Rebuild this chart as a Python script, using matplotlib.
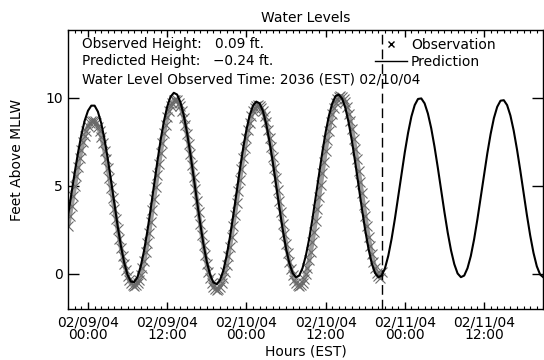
import numpy as np
import matplotlib
matplotlib.use("Agg")
import matplotlib.pyplot as plt
from matplotlib.ticker import MultipleLocator, FixedLocator
from matplotlib.lines import Line2D

# ---------------- data ----------------
# predicted water level, every half hour, hours since 02/09/04 00:00 EST
pred_hours = np.arange(-3.0, 69.01, 0.5)
pred_values = [
    3.39, 4.59, 5.79, 6.91, 7.91, 8.71, 9.27, 9.56, 9.56, 9.22, 8.57, 7.65, 6.53, 5.27,
    3.96, 2.69, 1.55, 0.61, -0.07, -0.44, -0.47, -0.18, 0.44, 1.33, 2.44, 3.70, 5.04,
    6.36, 7.60, 8.67, 9.50, 10.06, 10.29, 10.19, 9.76, 9.02, 8.03, 6.84, 5.53, 4.17,
    2.86, 1.67, 0.68, -0.06, -0.49, -0.59, -0.36, 0.18, 1.02, 2.08, 3.30, 4.60, 5.90,
    7.12, 8.18, 9.02, 9.56, 9.79, 9.69, 9.26, 8.52, 7.52, 6.35, 5.06, 3.76, 2.53, 1.45,
    0.61, 0.05, -0.19, -0.10, 0.32, 1.02, 1.96, 3.10, 4.36, 5.64, 6.90, 8.04, 8.98,
    9.68, 10.10, 10.19, 9.96, 9.42, 8.58, 7.52, 6.30, 5.00, 3.70, 2.48, 1.42, 0.58,
    0.04, -0.19, -0.10, 0.32, 1.03, 1.99, 3.13, 4.39, 5.67, 6.91, 8.02, 8.94, 9.59,
    9.94, 9.97, 9.69, 9.11, 8.28, 7.23, 6.04, 4.78, 3.52, 2.35, 1.34, 0.55, 0.02,
    -0.19, -0.10, 0.32, 1.01, 1.96, 3.10, 4.34, 5.61, 6.84, 7.94, 8.85, 9.49, 9.84,
    9.87, 9.59, 9.00, 8.14, 7.07, 5.87, 4.59, 3.34, 2.18, 1.19, 0.43, -0.04, -0.20,
]

# observed water level, every 15 minutes from -3.0 h to 44.5 h
obs_hours = np.arange(-3.0, 44.51, 0.25)
obs_values = [
    2.74, 3.30, 3.86, 4.44, 5.00, 5.56, 6.09, 6.59, 7.05, 7.47, 7.83, 8.14, 8.38, 8.56, 8.66, 8.70,
    8.66, 8.55, 8.37, 8.12, 7.80, 7.43, 7.00, 6.52, 6.00, 5.45, 4.88, 4.30, 3.71, 3.12, 2.55, 2.00,
    1.48, 1.00, 0.57, 0.20, -0.12, -0.37, -0.55, -0.66, -0.70,
    -0.66, -0.53, -0.33, -0.05, 0.31, 0.74, 1.22, 1.76, 2.34, 2.96, 3.61, 4.27, 4.93, 5.59, 6.24,
    6.86, 7.44, 7.98, 8.46, 8.89, 9.24, 9.53, 9.73, 9.86, 9.90,
    9.86, 9.73, 9.52, 9.23, 8.87, 8.44, 7.94, 7.39, 6.80, 6.17, 5.51, 4.84, 4.16, 3.49, 2.83,
    2.20, 1.61, 1.06, 0.56, 0.13, -0.23, -0.52, -0.73, -0.86, -0.90,
    -0.86, -0.74, -0.53, -0.25, 0.10, 0.52, 1.00, 1.54, 2.11, 2.73, 3.37, 4.02, 4.68, 5.33, 5.97,
    6.59, 7.16, 7.70, 8.18, 8.60, 8.95, 9.23, 9.44, 9.56, 9.60,
    9.56, 9.44, 9.24, 8.96, 8.62, 8.20, 7.73, 7.21, 6.64, 6.04, 5.42, 4.77, 4.13, 3.49, 2.86,
    2.26, 1.69, 1.17, 0.70, 0.28, -0.06, -0.34, -0.54, -0.66, -0.70,
    -0.66, -0.53, -0.32, -0.03, 0.33, 0.76, 1.26, 1.81, 2.40, 3.03, 3.69, 4.36, 5.04, 5.71, 6.37,
    7.00, 7.59, 8.14, 8.64, 9.07, 9.43, 9.72, 9.93, 10.06, 10.10,
    10.06, 9.94, 9.74, 9.46, 9.11, 8.69, 8.21, 7.69, 7.11, 6.51, 5.87, 5.23, 4.57, 3.93, 3.29,
    2.69, 2.11, 1.59, 1.11, 0.69, 0.34, 0.07, -0.14, -0.22, 0.09,
]

now_hour = 44.6   # 2036 EST 02/10/04
obs_height = 0.09
pred_height = -0.24

xtick_pos = [0, 12, 24, 36, 48, 60]
xtick_labels = ["02/09/04\n00:00", "02/09/04\n12:00", "02/10/04\n00:00",
                "02/10/04\n12:00", "02/11/04\n00:00", "02/11/04\n12:00"]
ytick_pos = [0, 5, 10]

# ---------------- plot ----------------
plt.rcParams['font.family'] = ['DejaVu Sans']
fig = plt.figure(figsize=(5.44, 3.60), dpi=100)
ax = fig.add_axes([68.2 / 544, 51 / 360, 475.2 / 544, 279 / 360])

ax.plot(obs_hours, obs_values, linestyle='-', linewidth=3.2, color='#9a9a9a',
        solid_capstyle='round')
ax.plot(obs_hours, obs_values, linestyle='none', marker='x',
        markersize=6.5, markeredgewidth=0.8, color='#6a6a6a')
ax.plot(pred_hours, pred_values, color='black', linewidth=1.5)
ax.axvline(now_hour, color='black', linewidth=1.0, linestyle=(0, (7, 3.6)))

ax.set_xlim(-3, 69)
ax.set_ylim(-2, 13.86)

ax.xaxis.set_major_locator(FixedLocator(xtick_pos))
ax.set_xticklabels(xtick_labels, fontsize=10, linespacing=0.78)
ax.xaxis.set_minor_locator(MultipleLocator(1))
ax.yaxis.set_major_locator(FixedLocator(ytick_pos))
ax.set_yticklabels([str(v) for v in ytick_pos], fontsize=10)

ax.tick_params(axis='x', which='major', direction='in', length=5, width=1,
               top=True, bottom=True, pad=5)
ax.tick_params(axis='x', which='minor', direction='in', length=2.5, width=0.8,
               top=True, bottom=True)
ax.tick_params(axis='y', which='major', direction='in', length=8, width=1,
               left=True, right=True, pad=4)
for s in ax.spines.values():
    s.set_linewidth(1.0)

ax.set_title("Water Levels", fontsize=10, pad=6)
ax.set_xlabel("Hours (EST)", fontsize=10, labelpad=2)
ax.set_ylabel("Feet Above MLLW", fontsize=10)
ax.yaxis.set_label_coords(-0.092, 0.534)

ax.text(0.029, 0.950, "Observed Height:", transform=ax.transAxes, fontsize=9.8, va='center')
ax.text(0.309, 0.950, f"{obs_height:.2f} ft.", transform=ax.transAxes, fontsize=9.8, va='center')
ax.text(0.029, 0.889, "Predicted Height:", transform=ax.transAxes, fontsize=9.8, va='center')
ax.text(0.305, 0.889, f"\u2212{abs(pred_height):.2f} ft.", transform=ax.transAxes, fontsize=9.8, va='center')
ax.text(0.029, 0.824, "Water Level Observed Time: 2036 (EST) 02/10/04",
        transform=ax.transAxes, fontsize=9.8, va='center')

obs_handle = Line2D([], [], linestyle='none', marker='x', markersize=5,
                    markeredgewidth=1.0, color='black', label='Observation')
pred_handle = Line2D([], [], color='black', linewidth=1.0, label='Prediction')
leg = ax.legend(handles=[obs_handle, pred_handle], loc='upper left',
                bbox_to_anchor=(0.645, 0.972), frameon=False, fontsize=10,
                handlelength=2.3, handletextpad=0.3, borderpad=0, borderaxespad=0,
                labelspacing=0.2)

fig.savefig("out.png", dpi=100)
